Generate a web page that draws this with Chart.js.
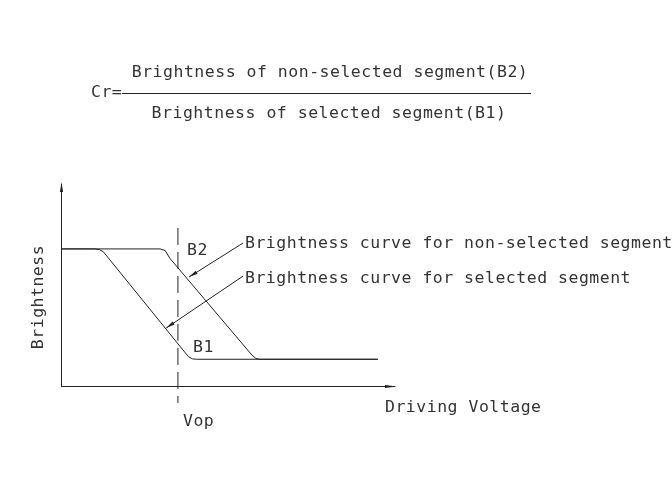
<!DOCTYPE html>
<html lang="en">
<head>
<meta charset="UTF-8">
<title>Contrast ratio – brightness curves</title>
<script src="https://cdn.jsdelivr.net/npm/chart.js@4.4.7/dist/chart.umd.min.js"></script>
<style>
*{margin:0;padding:0;box-sizing:border-box}
body{background:#fff;width:672px;height:503px;overflow:hidden}
#wrap{position:relative;width:672px;height:503px}
</style>
</head>
<body>
<div id="wrap"><canvas id="chart"></canvas></div>
<script>
// curve data, x = driving voltage units, y = brightness units (0..100 both)
var SEL_X = [0, 10.1, 11.5, 12.6, 37.9, 39.1, 40.4, 94.3];
var SEL_Y = [67.2, 67.2, 66.8, 65.8, 14.4, 13.3, 13.1, 13.1];
var NON_X = [0, 29.5, 31.0, 32.4, 56.8, 58.0, 59.2, 94.3];
var NON_Y = [67.2, 67.2, 66.4, 62.6, 15.2, 13.5, 13.1, 13.1];
var VOP_X = [34.8, 34.8];
var VOP_Y = [77.5, -8.3];

var FORMULA_NUM = "Brightness of non-selected segment(B2)";
var FORMULA_DEN = "Brightness of selected segment(B1)";
var LABEL_NON = "Brightness curve for non-selected segment";
var LABEL_SEL = "Brightness curve for selected segment";
var X_TITLE = "Driving Voltage";
var Y_TITLE = "Brightness";

function pts(xs, ys) { return xs.map(function (x, i) { return { x: x, y: ys[i] }; }); }

var INK = "#222";
var FONT = "16.5px 'DejaVu Sans Mono', monospace";

function arrow(ctx, x0, y0, x1, y1, len, half) {
  var a = Math.atan2(y1 - y0, x1 - x0);
  ctx.beginPath();
  ctx.moveTo(x1, y1);
  ctx.lineTo(x1 - len * Math.cos(a) + half * Math.sin(a), y1 - len * Math.sin(a) - half * Math.cos(a));
  ctx.lineTo(x1 - len * Math.cos(a) - half * Math.sin(a), y1 - len * Math.sin(a) + half * Math.cos(a));
  ctx.closePath();
  ctx.fill();
}

function text(ctx, s, x, yMid, align) {
  ctx.textAlign = align || "left";
  ctx.fillText(s, x, yMid + 6);
}

var diagram = {
  id: "diagram",
  afterDatasetsDraw: function (chart) {
    var ctx = chart.ctx, xs = chart.scales.x, ys = chart.scales.y;
    var px = function (v) { return xs.getPixelForValue(v); };
    var py = function (v) { return ys.getPixelForValue(v); };
    ctx.save();
    ctx.strokeStyle = INK; ctx.fillStyle = INK; ctx.lineWidth = 1;

    // axes with arrows
    ctx.beginPath();
    ctx.moveTo(px(0) + 0.5, py(0)); ctx.lineTo(px(0) + 0.5, py(100) + 2);
    ctx.moveTo(px(0), py(0) + 0.5); ctx.lineTo(px(100) - 2, py(0) + 0.5);
    ctx.stroke();
    arrow(ctx, px(0) + 0.5, py(0), px(0) + 0.5, py(100), 10, 1.6);
    arrow(ctx, px(0), py(0) + 0.5, px(100), py(0) + 0.5, 12, 1.6);

    // leaders
    var leaders = [[54.2, 70.1, 38.1, 53.4], [54.2, 53.9, 31.3, 28.4]];
    leaders.forEach(function (l) {
      ctx.beginPath();
      ctx.moveTo(px(l[0]), py(l[1])); ctx.lineTo(px(l[2]), py(l[3]));
      ctx.stroke();
      arrow(ctx, px(l[0]), py(l[1]), px(l[2]), py(l[3]), 9, 1.8);
    });

    // formula
    ctx.beginPath();
    ctx.moveTo(122, 93.5); ctx.lineTo(531, 93.5);
    ctx.stroke();

    ctx.font = FONT;
    ctx.letterSpacing = "0.5px";
    ctx.fillStyle = "#333";
    text(ctx, "Cr=", 91, 91);
    text(ctx, FORMULA_NUM, 330, 71, "center");
    text(ctx, FORMULA_DEN, 329, 112, "center");

    text(ctx, "B2", 187, 249);
    text(ctx, "B1", 193, 346);
    text(ctx, "Vop", 183, 420);
    text(ctx, LABEL_NON, 245, 242);
    text(ctx, LABEL_SEL, 245, 277);
    text(ctx, X_TITLE, 385, 406);

    ctx.save();
    ctx.translate(37, 297);
    ctx.rotate(-Math.PI / 2);
    text(ctx, Y_TITLE, 0, 0, "center");
    ctx.restore();

    ctx.restore();
  }
};

new Chart(document.getElementById("chart"), {
  type: "line",
  data: {
    datasets: [
      { label: "selected", data: pts(SEL_X, SEL_Y), borderColor: INK, borderWidth: 1, pointRadius: 0, tension: 0, fill: false },
      { label: "non-selected", data: pts(NON_X, NON_Y), borderColor: INK, borderWidth: 1, pointRadius: 0, tension: 0, fill: false },
      { label: "Vop", data: pts(VOP_X, VOP_Y), borderColor: INK, borderWidth: 1, borderDash: [17, 7], pointRadius: 0, fill: false, clip: false }
    ]
  },
  options: {
    responsive: true,
    maintainAspectRatio: false,
    animation: false,
    layout: { padding: { left: 61, right: 275, top: 182, bottom: 117 } },
    plugins: { legend: { display: false }, tooltip: { enabled: false }, title: { display: false } },
    scales: {
      x: { type: "linear", min: 0, max: 100, display: false },
      y: { type: "linear", min: 0, max: 100, display: false }
    }
  },
  plugins: [diagram]
});
</script>
</body>
</html>
